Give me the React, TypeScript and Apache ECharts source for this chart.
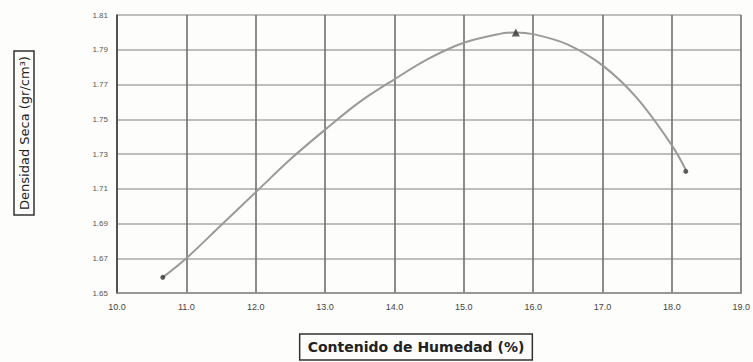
import React, { useEffect, useRef } from "react";
import * as echarts from "echarts";

// Axis ticks
const xTicks = [10, 11, 12, 13, 14, 15, 16, 17, 18, 19];
const yTicks = [1.65, 1.67, 1.69, 1.71, 1.73, 1.75, 1.77, 1.79, 1.81];

// Fitted compaction curve
const curveX = [10.66, 11.0, 11.5, 12.0, 12.5, 13.0, 13.5, 14.0, 14.5, 15.0, 15.5, 15.75, 16.0, 16.5, 17.0, 17.5, 18.0, 18.2];
const curveY = [1.659, 1.670, 1.689, 1.708, 1.727, 1.744, 1.760, 1.773, 1.785, 1.794, 1.799, 1.800, 1.799, 1.793, 1.781, 1.762, 1.735, 1.721];

// Measured points
const pointX = [10.66, 15.75, 18.2];
const pointY = [1.659, 1.8, 1.72];
const pointSymbols = ["circle", "triangle", "circle"];

const yTitle = "Densidad Seca (gr/cm³)";
const xTitle = "Contenido de Humedad (%)";

export default function App() {
  const ref = useRef<HTMLDivElement>(null);
  useEffect(() => {
    if (!ref.current) return;
    const chart = echarts.init(ref.current, null, { renderer: "svg" });
    const font = "'Liberation Sans', Arial, sans-serif";
    chart.setOption({
      animation: false,
      backgroundColor: "#fdfdfc",
      grid: { left: 117, right: 11, top: 15, bottom: 69, containLabel: false },
      xAxis: {
        type: "value",
        min: xTicks[0],
        max: xTicks[xTicks.length - 1],
        interval: 1,
        axisLine: { show: true, lineStyle: { color: "#8a8a8a", width: 1.5 } },
        axisTick: { show: false },
        axisLabel: {
          formatter: (v: number) => v.toFixed(1),
          fontSize: 9,
          color: "#444",
          margin: 9,
          fontFamily: font,
        },
        splitLine: { show: true, lineStyle: { color: "#707070", width: 1.6 } },
      },
      yAxis: {
        type: "value",
        min: yTicks[0],
        max: yTicks[yTicks.length - 1],
        axisLine: { show: true, lineStyle: { color: "#444", width: 1.6 } },
        axisTick: { show: false, customValues: yTicks },
        axisLabel: {
          customValues: yTicks,
          formatter: (v: number) => v.toFixed(2),
          fontSize: 8,
          color: "#555",
          margin: 9,
          fontFamily: font,
        },
        splitLine: { show: true, lineStyle: { color: "#a8a8a8", width: 1.5 } },
      },
      series: [
        {
          type: "line",
          data: curveX.map((x, i) => [x, curveY[i]]),
          smooth: 0.35,
          showSymbol: false,
          lineStyle: { color: "#9a9a9a", width: 2 },
          z: 3,
        },
        {
          type: "scatter",
          data: pointX.map((x, i) => ({
            value: [x, pointY[i]],
            symbol: pointSymbols[i],
            symbolSize: pointSymbols[i] === "triangle" ? 8 : 5,
          })),
          itemStyle: { color: "#333" },
          z: 4,
        },
      ],
      graphic: [
        {
          type: "text",
          x: 24,
          y: 133,
          rotation: Math.PI / 2,
          style: {
            text: yTitle,
            font: "13px 'DejaVu Sans', sans-serif",
            fill: "#222",
            align: "center",
            verticalAlign: "middle",
            borderColor: "#333",
            borderWidth: 1.5,
            padding: [4, 5, 3, 5],
          },
        },
        {
          type: "text",
          x: 416,
          y: 347,
          style: {
            text: xTitle,
            font: "bold 14px 'DejaVu Sans', sans-serif",
            fill: "#222",
            align: "center",
            verticalAlign: "middle",
            borderColor: "#333",
            borderWidth: 1.5,
            padding: [6, 8, 6, 8],
          },
        },
      ],
    });
    return () => chart.dispose();
  }, []);
  return (
    <div
      ref={ref}
      style={{ position: "fixed", left: 0, top: 0, width: 753, height: 362 }}
    />
  );
}
